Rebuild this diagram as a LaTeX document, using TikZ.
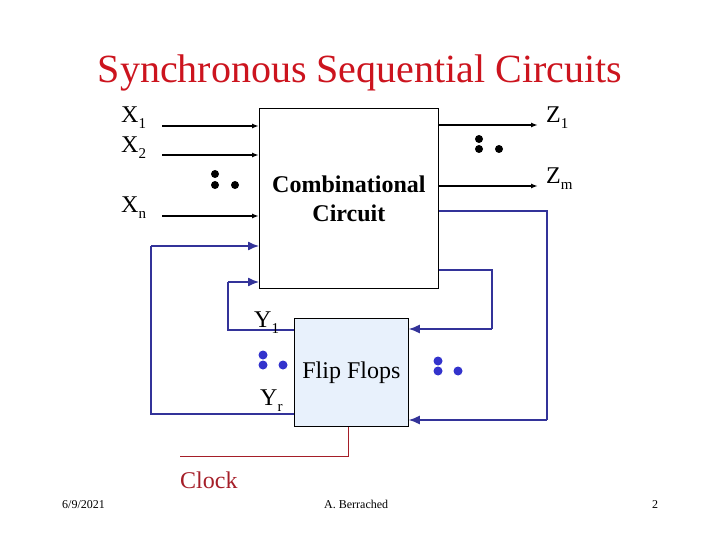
\documentclass[tikz,border=0pt]{standalone}
\usepackage{fontspec}
\setmainfont{Liberation Serif}
\usetikzlibrary{arrows.meta, positioning}
\definecolor{titlered}{RGB}{204,20,30}
\definecolor{fbblue}{RGB}{51,51,153}
\definecolor{dotblue}{RGB}{51,51,204}
\definecolor{clkred}{RGB}{165,30,40}
\definecolor{fffill}{RGB}{232,241,252}
\newcommand{\lowsub}[1]{\raisebox{-6pt}{\fontsize{15}{15}\selectfont #1}}

\begin{document}
\begin{tikzpicture}[x=1pt, y=-1pt,
        box/.style={draw, line width=0.8pt, inner sep=0pt},
        sig/.style={-{Latex[length=7pt,width=5pt]}, line width=1.4pt},
        fback/.style={fbblue, line width=1.3pt, -{Latex[length=11pt,width=9pt]}},
        fline/.style={fbblue, line width=1.3pt},
        lbl/.style={font=\fontsize{24}{29}\selectfont, inner sep=0pt, anchor=base west},
        foot/.style={font=\fontsize{12}{14}\selectfont, inner sep=0pt, anchor=base west}]
    \useasboundingbox (0,0) rectangle (720,540);

        \node[font=\fontsize{40}{48}\selectfont, titlered, inner sep=0pt, anchor=base] (title) at (360,83) {Synchronous Sequential Circuits};

        \node[box, minimum width=179pt, minimum height=180pt, anchor=north west,
              font=\bfseries\fontsize{24}{29}\selectfont, align=center] (comb) at (259,108) {Combinational\\Circuit};
        \node[box, fill=fffill, minimum width=114pt, minimum height=108pt, anchor=north west,
              font=\fontsize{24}{29}\selectfont] (ff) at (294,318) {Flip Flops};

        % inputs and outputs
        \coordinate (xi1) at (162,126);
        \coordinate (xi2) at (162,155);
        \coordinate (xin) at (162,216);
        \coordinate (zo1) at (538,125);
        \coordinate (zom) at (538,186);
        \draw[sig] (xi1) -- (xi1 -| comb.west);
        \draw[sig] (xi2) -- (xi2 -| comb.west);
        \draw[sig] (xin) -- (xin -| comb.west);
        \draw[sig] (zo1 -| comb.east) -- (zo1);
        \draw[sig] (zom -| comb.east) -- (zom);

        \node[lbl] (x1lbl) at (121,123) {X\lowsub{1}};
        \node[lbl] (x2lbl) at (121,153) {X\lowsub{2}};
        \node[lbl] (xnlbl) at (121,212) {X\lowsub{n}};
        \node[lbl] (z1lbl) at (546,123) {Z\lowsub{1}};
        \node[lbl] (zmlbl) at (546,184) {Z\lowsub{m}};

        % feedback loops
        \coordinate (ra) at (492,270);
        \coordinate (rb) at (492,329);
        \coordinate (rc) at (547,211);
        \coordinate (rd) at (547,420);
        \draw[fline] (ra -| comb.east) -- (ra) -- (rb);
        \draw[fback] (rb) -- (rb -| ff.east);
        \draw[fline] (rc -| comb.east) -- (rc) -- (rd);
        \draw[fback] (rd) -- (rd -| ff.east);

        \coordinate (la) at (228,330);
        \coordinate (lb) at (228,282);
        \coordinate (lc) at (151,414);
        \coordinate (ld) at (151,246);
        \draw[fline] (la -| ff.west) -- (la) -- (lb);
        \draw[fback] (lb) -- (lb -| comb.west);
        \draw[fline] (lc -| ff.west) -- (lc) -- (ld);
        \draw[fback] (ld) -- (ld -| comb.west);

        \node[lbl] (y1lbl) at (254,327) {Y\lowsub{1}};
        \node[lbl] (yrlbl) at (260,405) {Y\lowsub{r}};

        % clock
        \coordinate (ck) at (180,456);
        \draw[clkred, line width=1pt] (ff.south -| 348,0) |- (ck);
        \node[lbl, clkred] (clk) at (180,488) {Clock};

        % dots
        \foreach \p in {(215,174),(215,185),(235,185),(479,139),(479,149),(499,149)}
            \fill \p circle (4);
        \foreach \p in {(263,355),(263,365),(283,365),(438,361),(438,371),(458,371)}
            \fill[dotblue] \p circle (4.5);

        \node[foot] (date) at (62,508) {6/9/2021};
        \node[foot] (auth) at (324,508) {A. Berrached};
        \node[foot] (page) at (652,508) {2};
\end{tikzpicture}
\end{document}
